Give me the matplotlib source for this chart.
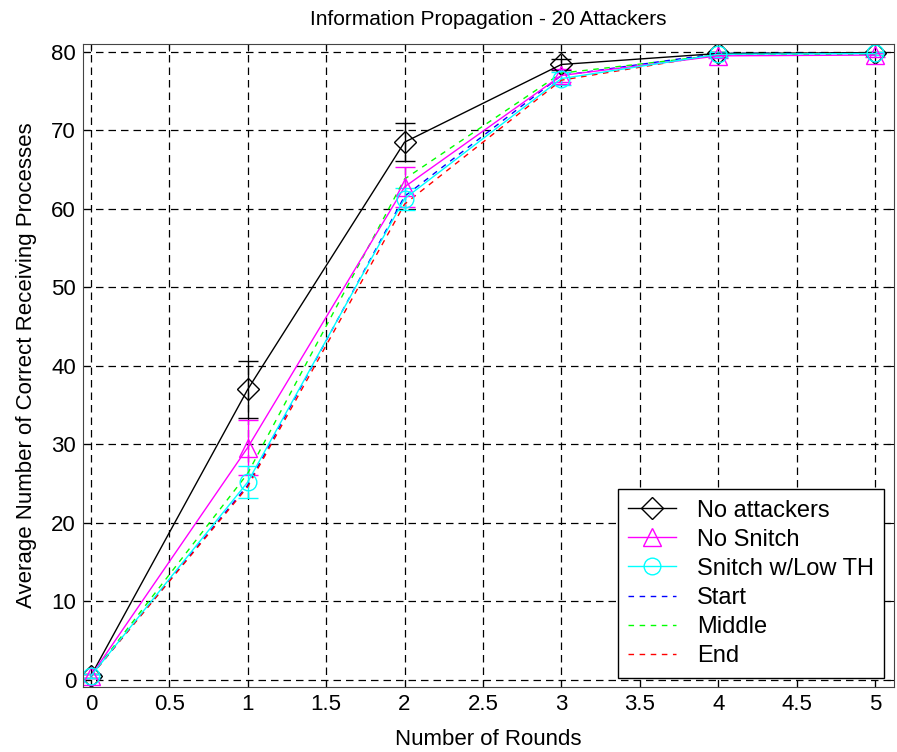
import matplotlib
matplotlib.use('Agg')
import matplotlib.pyplot as plt

plt.rcParams['font.family'] = ['Liberation Sans', 'DejaVu Sans']

# rounds
rounds = [0, 1, 2, 3, 4, 5]

# averages with error bars
no_attackers = [0.5, 37.0, 68.5, 78.4, 79.8, 79.9]
no_attackers_err = [0.3, 3.6, 2.4, 0.7, 0.2, 0.1]
no_snitch = [0.5, 29.6, 62.8, 77.0, 79.5, 79.6]
no_snitch_err = [0.3, 3.5, 2.5, 0.8, 0.3, 0.3]
snitch_low = [0.5, 25.2, 61.3, 76.6, 79.7, 79.8]
snitch_low_err = [0.3, 2.0, 1.4, 0.8, 0.3, 0.2]

# attack placement (no error bars)
start = [0.5, 24.8, 61.6, 77.0, 79.8, 79.9]
middle = [0.5, 26.3, 63.8, 77.3, 79.6, 79.7]
end = [0.5, 24.6, 60.6, 76.4, 79.7, 79.9]

fig = plt.figure(figsize=(8.97, 7.52), dpi=100)
ax = fig.add_axes([0.0925, 0.0864, 0.904, 0.855])

e1 = ax.errorbar(rounds, no_attackers, yerr=no_attackers_err, color='black', lw=1,
                 marker='D', ms=11, mfc='none', mew=1, capsize=7)
e2 = ax.errorbar(rounds, no_snitch, yerr=no_snitch_err, color='#ff00ff', lw=1,
                 marker='^', ms=13, mfc='none', mew=1, capsize=7)
e3 = ax.errorbar(rounds, snitch_low, yerr=snitch_low_err, color='#00ffff', lw=1,
                 marker='o', ms=12, mfc='none', mew=1, capsize=7)
l1, = ax.plot(rounds, start, color='blue', ls=(0, (4, 4)), lw=1)
l2, = ax.plot(rounds, middle, color='#00ff00', ls=(0, (4, 4)), lw=1)
l3, = ax.plot(rounds, end, color='red', ls=(0, (4, 4)), lw=1)

ax.set_xlim(-0.05, 5.12)
ax.set_ylim(-0.9, 81)
ax.set_xticks([0, 0.5, 1, 1.5, 2, 2.5, 3, 3.5, 4, 4.5, 5])
ax.set_xticklabels(['0', '0.5', '1', '1.5', '2', '2.5', '3', '3.5', '4', '4.5', '5'])
ax.set_yticks(range(0, 81, 10))
ax.grid(True, color='black', ls=(0, (6, 4)), lw=0.9)
ax.tick_params(direction='in', top=True, right=True, labelsize=16, length=5, pad=5)
for s in ax.spines.values():
    s.set_color('#444444')

ax.set_title('Information Propagation - 20 Attackers', fontsize=15, pad=14)
ax.set_xlabel('Number of Rounds', fontsize=16, labelpad=10)
ax.set_ylabel('Average Number of Correct Receiving Processes', fontsize=16, labelpad=10)

leg = ax.legend([e1[0], e2[0], e3[0], l1, l2, l3],
                ['No attackers', 'No Snitch', 'Snitch w/Low TH', 'Start', 'Middle', 'End'],
                loc='lower right', fontsize=17, frameon=True,
                fancybox=False, edgecolor='black', framealpha=1, borderaxespad=0.4,
                handlelength=2.0, labelspacing=0.3, borderpad=0.45, handletextpad=0.9)
leg.get_frame().set_linewidth(1)

fig.savefig('out.png', dpi=100)
